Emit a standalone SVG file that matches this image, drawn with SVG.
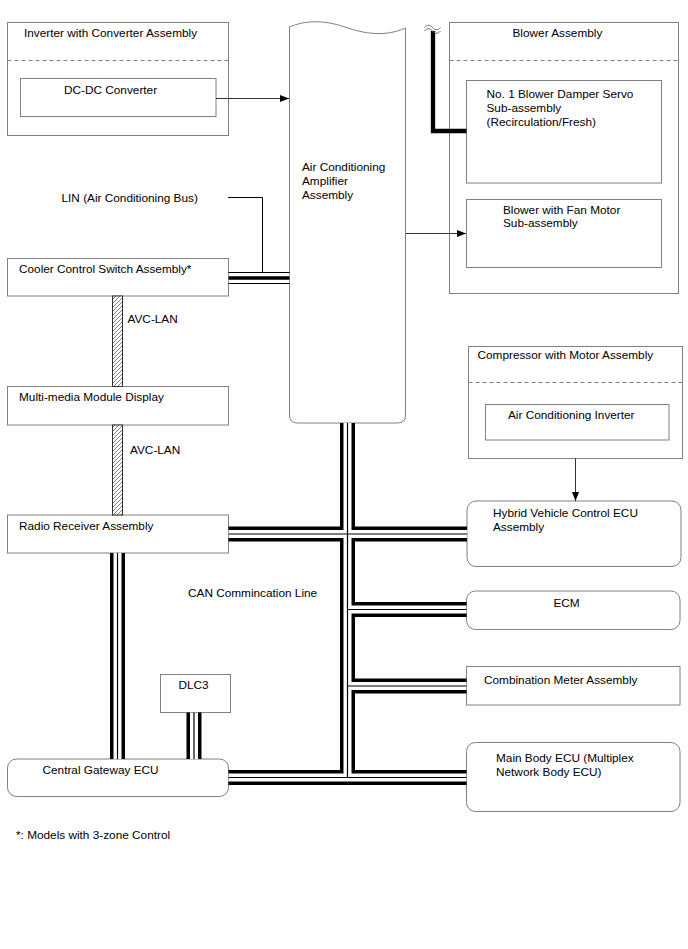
<svg xmlns="http://www.w3.org/2000/svg" width="688" height="949" viewBox="0 0 688 949">
<style>
text{font-family:"Liberation Sans",Arial,sans-serif;font-size:11.8px;fill:#000}
.box{fill:#fff;stroke:#808080;stroke-width:1}
.dash{fill:none;stroke:#808080;stroke-width:1;stroke-dasharray:4 3}
.arr{fill:none;stroke:#333;stroke-width:1;marker-end:url(#ah)}
.busA{fill:none;stroke:#000;stroke-width:15}
.busB{fill:none;stroke:#fff;stroke-width:8}
.busC{fill:none;stroke:#000;stroke-width:1.2}
.hatch{fill:url(#hp);stroke:#333;stroke-width:1}
</style>
<defs>
<marker id="ah" markerUnits="userSpaceOnUse" markerWidth="9" markerHeight="7" refX="9" refY="3.5" orient="auto">
<path d="M0,0 L9,3.5 L0,7 z" fill="#000"/>
</marker>
<pattern id="hp" patternUnits="userSpaceOnUse" width="4" height="4">
<rect width="4" height="4" fill="#fff"/>
<path d="M-1,1 L1,-1 M0,4 L4,0 M3,5 L5,3" stroke="#444" stroke-width="0.7"/>
</pattern>
</defs>
<rect width="688" height="949" fill="#fff"/>

<g id="inverter">
<rect class="box" x="7.5" y="22.5" width="221" height="113"/>
<line class="dash" x1="7.5" y1="60.5" x2="228.5" y2="60.5"/>
<text x="24" y="36.5">Inverter with Converter Assembly</text>
</g>
<g id="dcdc">
<rect class="box" x="20.5" y="78.5" width="195.5" height="38"/>
<text x="64" y="93.5">DC-DC Converter</text>
</g>

<g id="amplifier">
<path class="box" d="M289.5,27 C305,20 325,20 345,27 C365,34 385,37 405.5,28 V415 Q405.5,423 397.5,423 H297.5 Q289.5,423 289.5,415 Z"/>
<text x="302" y="171">Air Conditioning</text>
<text x="302" y="185">Amplifier</text>
<text x="302" y="199">Assembly</text>
</g>

<g id="blower">
<rect class="box" x="449.5" y="22.5" width="229" height="271"/>
<line class="dash" x1="449.5" y1="60.5" x2="678.5" y2="60.5"/>
<text x="512.5" y="36.5">Blower Assembly</text>
</g>
<g id="damper">
<rect class="box" x="466.5" y="80.5" width="195" height="102.5"/>
<text x="486.5" y="98">No. 1 Blower Damper Servo</text>
<text x="486.5" y="112">Sub-assembly</text>
<text x="486.5" y="126">(Recirculation/Fresh)</text>
</g>
<g id="fan">
<rect class="box" x="466.5" y="199.5" width="195" height="68"/>
<text x="503" y="213.5">Blower with Fan Motor</text>
<text x="503" y="227">Sub-assembly</text>
</g>

<g id="lin-label">
<text x="61.5" y="202">LIN (Air Conditioning Bus)</text>
</g>

<g id="cooler">
<rect class="box" x="7.5" y="258.5" width="221" height="37.5"/>
<text x="19" y="273">Cooler Control Switch Assembly*</text>
</g>
<text x="127.5" y="323">AVC-LAN</text>
<g id="multimedia">
<rect class="box" x="7.5" y="386.5" width="221" height="38.5"/>
<text x="19" y="401">Multi-media Module Display</text>
</g>
<text x="130" y="453.5">AVC-LAN</text>
<g id="radio">
<rect class="box" x="7.5" y="515" width="221" height="38"/>
<text x="19" y="529.5">Radio Receiver Assembly</text>
</g>

<g id="compressor">
<rect class="box" x="468.5" y="346.5" width="214" height="112"/>
<line class="dash" x1="468.5" y1="382.5" x2="682.5" y2="382.5"/>
<text x="477.5" y="358.5">Compressor with Motor Assembly</text>
</g>
<g id="acinverter">
<rect class="box" x="485.5" y="404.5" width="183.5" height="35.5"/>
<text x="508" y="418.5">Air Conditioning Inverter</text>
</g>

<g id="hv">
<rect class="box" x="467" y="501" width="214" height="65.5" rx="9"/>
<text x="493" y="517">Hybrid Vehicle Control ECU</text>
<text x="493" y="531">Assembly</text>
</g>
<text x="188" y="597">CAN Commincation Line</text>
<g id="ecm">
<rect class="box" x="466.5" y="591" width="213.5" height="38.5" rx="9"/>
<text x="566.5" y="607" text-anchor="middle">ECM</text>
</g>
<g id="combination">
<rect class="box" x="466.5" y="666.5" width="213.5" height="38.5"/>
<text x="484" y="683.5">Combination Meter Assembly</text>
</g>
<g id="dlc3">
<rect class="box" x="160.5" y="674.5" width="70" height="38"/>
<text x="178.5" y="689">DLC3</text>
</g>
<g id="gateway">
<rect class="box" x="7.5" y="759" width="221" height="37.5" rx="9"/>
<text x="42.5" y="773.5">Central Gateway ECU</text>
</g>
<g id="mainbody">
<rect class="box" x="466.5" y="742.5" width="213.5" height="69" rx="9"/>
<text x="496" y="762">Main Body ECU (Multiplex</text>
<text x="496" y="775.5">Network Body ECU)</text>
</g>

<text x="16" y="839">*: Models with 3-zone Control</text>

<g id="connectors">
<line class="arr" x1="216" y1="98.5" x2="289" y2="98.5"/>
<line class="arr" x1="406" y1="233.5" x2="466" y2="233.5"/>
<line class="arr" x1="575.5" y1="458.5" x2="575.5" y2="501"/>
<path d="M228,197.5 H262.5 V277" fill="none" stroke="#000" stroke-width="1"/>
<path d="M228.5,278 H289.5" fill="none" stroke="#000" stroke-width="12"/>
<path d="M228.5,278 H289.5" fill="none" stroke="#fff" stroke-width="10"/>
<path d="M228.5,278 H289.5" fill="none" stroke="#000" stroke-width="3.5"/>
<path d="M433,31 V131 H466.5" fill="none" stroke="#000" stroke-width="4.3"/>
<path d="M424.5,27.5 c2.5,-3 5,-3 8,0 s5.5,3 8,0 M424.5,31 c2.5,-3 5,-3 8,0 s5.5,3 8,0" fill="none" stroke="#666" stroke-width="1"/>
<rect class="hatch" x="112.5" y="296" width="10" height="90.5"/>
<rect class="hatch" x="112.5" y="425" width="10" height="90"/>
<g class="busA">
<path d="M347.5,423 V777.5"/>
<path d="M228.5,534 H467"/>
<path d="M347.5,609.5 H466.5"/>
<path d="M347.5,686 H466.5"/>
<path d="M228.5,777.5 H466.5"/>
<path d="M117.5,553 V759"/>
<path d="M194,712.5 V759"/>
</g>
<g class="busB">
<path d="M347.5,423 V777.5"/>
<path d="M228.5,534 H467"/>
<path d="M347.5,609.5 H466.5"/>
<path d="M347.5,686 H466.5"/>
<path d="M228.5,777.5 H466.5"/>
<path d="M117.5,553 V759"/>
<path d="M194,712.5 V759"/>
</g>
<g class="busC">
<path d="M347.5,423 V777.5"/>
<path d="M228.5,534 H467"/>
<path d="M347.5,609.5 H466.5"/>
<path d="M347.5,686 H466.5"/>
<path d="M228.5,777.5 H466.5"/>
<path d="M117.5,553 V759"/>
<path d="M194,712.5 V759"/>
</g>
</g>
</svg>
